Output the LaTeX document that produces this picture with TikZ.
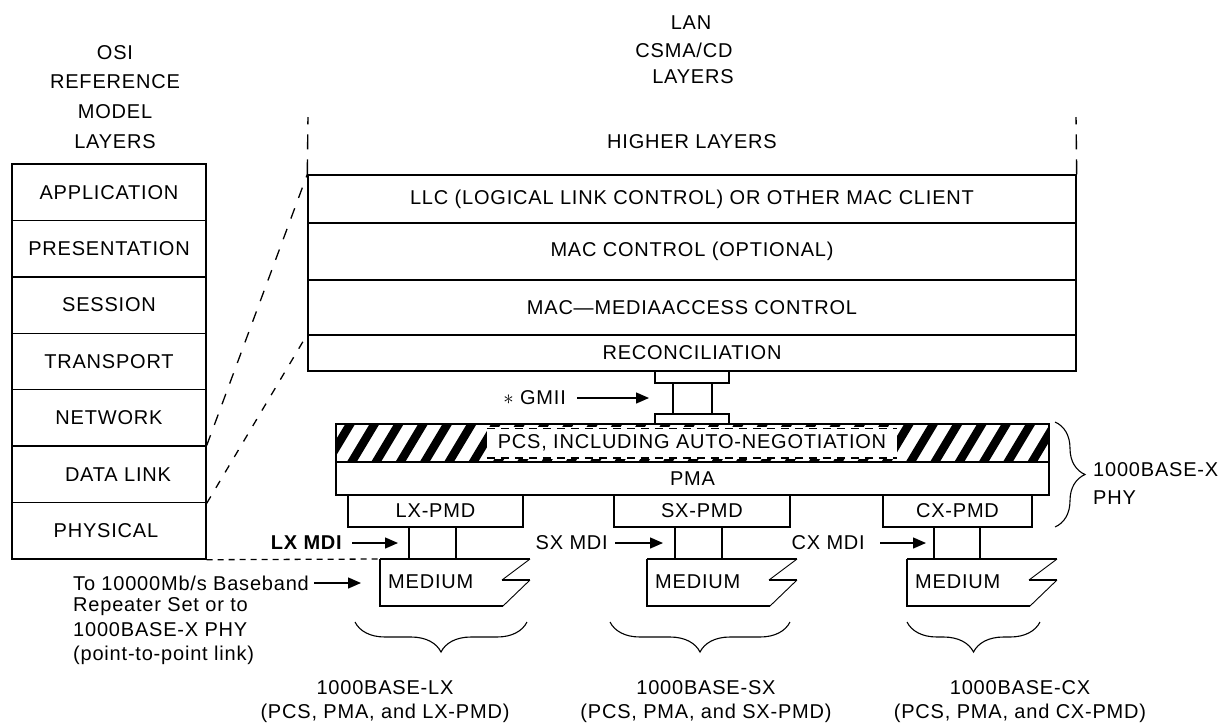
\documentclass[tikz,border=0pt]{standalone}
\usepackage{fontspec}
\setmainfont{Liberation Sans}[LetterSpace=4]
\usetikzlibrary{arrows.meta,decorations.pathreplacing,calc}
\newcommand\fs{\fontsize{20}{24}\selectfont}
\newcommand\mediumshape[2]{%
  \coordinate (#1) at (#2,559);
  \draw[ln] (#1) -- (#2+150,559);
  \draw[diag] (#2+150,559) -- (#2+122,580);
  \draw[ln] (#2+122,580) -- (#2+150,580);
  \draw[diag] (#2+150,580) -- (#2+123,606);
  \draw[ln] (#2+123,606) -- (#2,606) -- (#1);
}
\begin{document}
\begin{tikzpicture}[x=1pt,y=-1pt,
  every node/.style={font=\fs, inner sep=0pt},
  box/.style={draw, line width=1.4pt, inner sep=0pt},
  osib/.style={box, minimum width=194pt, minimum height=56.43pt},
  lanb/.style={box, minimum width=768pt},
  pmdb/.style={box, minimum height=32pt},
  ln/.style={line width=1.4pt},
  diag/.style={line width=0.9pt},
  arr/.style={line width=1.4pt, -{Triangle[length=13pt,width=11pt]}},
  vdash/.style={line width=1.4pt, dash pattern=on 15pt off 10pt},
  sdash/.style={line width=1.3pt, dash pattern=on 11pt off 11pt},
  sdashb/.style={line width=1.3pt, dash pattern=on 8pt off 10pt},
  hdash/.style={line width=1.3pt, dash pattern=on 6pt off 5pt},
  pdash/.style={line width=1.6pt, dash pattern=on 8pt off 6pt},
  brc/.style={decorate, decoration={brace, amplitude=30pt}, line width=1.1pt},
  hatch/.style={line width=8.4pt}]
\useasboundingbox (0,0) rectangle (1221,724);

% OSI header
\node (osi1) at (115,53) {OSI};
\node (osi2) at (115,82) {REFERENCE};
\node (osi3) at (115,112) {MODEL};
\node (osi4) at (115,142) {LAYERS};

% OSI stack
\node[osib] (app) at (109,192.2) {APPLICATION};
\node[osib] (pres) at (109,248.6) {PRESENTATION};
\node[osib] (sess) at (109,305.1) {SESSION};
\node[osib] (trans) at (109,361.5) {TRANSPORT};
\node[osib] (net) at (109,417.9) {NETWORK};
\node[osib] (dl) at (109,474.4) {\hspace*{18pt}DATA LINK};
\node[osib] (phys) at (109,530.8) {PHYSICAL\hspace*{6pt}};

% LAN header
\node (lan1) at (691,23) {LAN};
\node (lan2) at (684,50) {CSMA/CD};
\node (lan3) at (693,77) {LAYERS};
\node (hl) at (692,142) {HIGHER LAYERS};

% LAN stack
\node[lanb, minimum height=48pt] (llc) at (692,199) {LLC (LOGICAL LINK CONTROL) OR OTHER MAC CLIENT};
\node[lanb, minimum height=57pt] (macc) at (692,251.5) {MAC CONTROL (OPTIONAL)};
\node[lanb, minimum height=55pt] (mac) at (692,307.5) {MAC—MEDIAACCESS CONTROL};
\node[lanb, minimum height=36pt] (rec) at (692,353) {RECONCILIATION};

\coordinate (tl) at (308,117);
\coordinate (tr) at (1076,117);
\draw[vdash] (llc.north west) -- (tl);
\draw[vdash] (llc.north east) -- (tr);

% slanted dashed lines
\draw[sdash] (dl.north east) -- (llc.north west);
\draw[sdashb] (dl.south east) -- (rec.north west);

% GMII
\node[box, minimum width=74pt, minimum height=12pt] (gtop) at (692,377) {};
\node[box, minimum width=74pt, minimum height=10pt] (gbot) at (692,419) {};
\draw[ln] ([xshift=-19pt]gtop.south) -- ([xshift=-19pt]gbot.north);
\draw[ln] ([xshift=20pt]gtop.south) -- ([xshift=20pt]gbot.north);
\node[anchor=east] (gmii) at (566,398) {$\ast$ GMII};
\coordinate (gmiiend) at (649,398);
\draw[arr] ([xshift=11pt]gmii.east) -- (gmiiend);

% PCS hatched
\begin{scope}
  \clip (336,424) rectangle (1049,462);
  \foreach \k in {-2,...,30}
    \draw[hatch] ({325+24.3*\k},466) -- ({352.6+24.3*\k},420);
\end{scope}
\node[fill=white, minimum width=410pt, minimum height=32pt] (pcst) at (692,443) {PCS, INCLUDING AUTO-NEGOTIATION};
\draw[pdash] ([yshift=-1.5pt]pcst.north west) -- ([yshift=-1.5pt]pcst.north east);
\draw[pdash] ([yshift=1.5pt]pcst.south west) -- ([yshift=1.5pt]pcst.south east);
\node[box, minimum width=713pt, minimum height=38pt] (pcs) at (692.5,443) {};

% PMA
\node[box, minimum width=713pt, minimum height=33pt] (pma) at (692.5,478.5) {PMA};

% PMDs
\node[pmdb, minimum width=175pt] (lxpmd) at (435.5,511) {LX-PMD};
\node[pmdb, minimum width=176pt] (sxpmd) at (702,511) {SX-PMD};
\node[pmdb, minimum width=149pt] (cxpmd) at (957.5,511) {CX-PMD};

% media
\mediumshape{lxm}{380}
\mediumshape{sxm}{647}
\mediumshape{cxm}{907}
\node[anchor=west] (lxmt) at (388,582) {MEDIUM};
\node[anchor=west] (sxmt) at (655,582) {MEDIUM};
\node[anchor=west] (cxmt) at (915,582) {MEDIUM};

% MDI connectors
\coordinate (lxa) at (409,559); \coordinate (lxb) at (456,559);
\coordinate (sxa) at (675,559); \coordinate (sxb) at (722,559);
\coordinate (cxa) at (934,559); \coordinate (cxb) at (980,559);
\draw[ln] (lxa) -- (lxa |- lxpmd.south);
\draw[ln] (lxb) -- (lxb |- lxpmd.south);
\draw[ln] (sxa) -- (sxa |- sxpmd.south);
\draw[ln] (sxb) -- (sxb |- sxpmd.south);
\draw[ln] (cxa) -- (cxa |- cxpmd.south);
\draw[ln] (cxb) -- (cxb |- cxpmd.south);

% MDI labels
\node[anchor=east, font={\fs\bfseries}] (lxmdi) at (342,543) {LX MDI};
\node[anchor=east] (sxmdi) at (608,543) {SX MDI};
\node[anchor=east] (cxmdi) at (865,543) {CX MDI};
\coordinate (lxmdiend) at (398,543);
\coordinate (sxmdiend) at (663,543);
\coordinate (cxmdiend) at (926,543);
\draw[arr] ([xshift=10pt]lxmdi.east) -- (lxmdiend);
\draw[arr] ([xshift=7pt]sxmdi.east) -- (sxmdiend);
\draw[arr] ([xshift=15pt]cxmdi.east) -- (cxmdiend);

% dashed physical link
\draw[hdash] (phys.south east) -- (lxm);

% To repeater text
\node[anchor=west] (to1) at (73,583) {To 10000Mb/s Baseband};
\node[anchor=west] (to2) at (73,607) {Repeater Set or to};
\node[anchor=west] (to3) at (73,630) {1000BASE-X PHY};
\node[anchor=west] (to4) at (73,655) {(point-to-point link)};
\coordinate (toend) at (361,583);
\draw[arr] ([xshift=5pt]to1.east) -- (toend);

% bottom braces
\coordinate (lxb1) at (355,622); \coordinate (lxb2) at (527,622);
\coordinate (sxb1) at (610,622); \coordinate (sxb2) at (790,622);
\coordinate (cxb1) at (907,622); \coordinate (cxb2) at (1040,622);
\draw[brc] (lxb2) -- (lxb1);
\draw[brc] (sxb2) -- (sxb1);
\draw[brc] (cxb2) -- (cxb1);

\node (lxl1) at (385,688) {1000BASE-LX};
\node (lxl2) at (385,713) {(PCS, PMA, and LX-PMD)};
\node (sxl1) at (706,688) {1000BASE-SX};
\node (sxl2) at (706,713) {(PCS, PMA, and SX-PMD)};
\node (cxl1) at (1020,688) {1000BASE-CX};
\node (cxl2) at (1020,713) {(PCS, PMA, and CX-PMD)};

% PHY brace
\coordinate (phyt) at (1055,422); \coordinate (phyb) at (1055,527);
\draw[brc] (phyt) -- (phyb);
\node[anchor=west] (phy1) at (1093,470) {1000BASE-X};
\node[anchor=west] (phy2) at (1093,498) {PHY};
\end{tikzpicture}
\end{document}
